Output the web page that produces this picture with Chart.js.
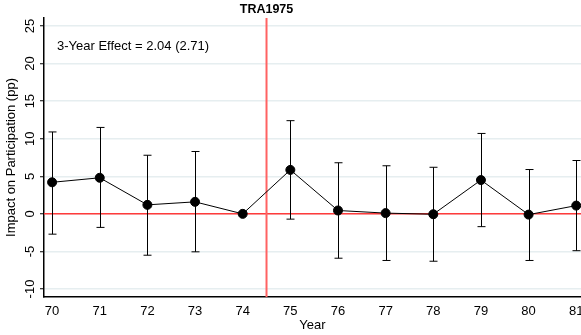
<!DOCTYPE html>
<html lang="en">
<head>
  <meta charset="UTF-8" />
  <title>TRA1975 event study</title>
  <script src="https://cdn.jsdelivr.net/npm/chart.js"></script>
  <style>
    body {
      margin: 0;
      background: #fff;
    }
    .wrap {
      width: 581px;
      height: 335px;
    }
  </style>
</head>
<body>
  <div class="wrap"><canvas id="effectChart"></canvas></div>

  <script>
    // values
    const years = [70, 71, 72, 73, 74, 75, 76, 77, 78, 79, 80, 81];
    const effect = [4.2, 4.8, 1.2, 1.6, 0, 5.85, 0.45, 0.1, -0.05, 4.5, -0.1, 1.1];
    const ciHigh = [10.9, 11.5, 7.8, 8.3, null, 12.4, 6.8, 6.4, 6.2, 10.7, 5.9, 7.1];
    const ciLow = [-2.7, -1.8, -5.5, -5.05, null, -0.7, -5.9, -6.2, -6.3, -1.7, -6.2, -4.9];
    const yTicks = [-10, -5, 0, 5, 10, 15, 20, 25];
    const reformYear = 74.5;
    const reformLabel = 'TRA1975';
    const noteText = '3-Year Effect = 2.04 (2.71)';

    const FONT = '"Liberation Sans", Arial, sans-serif';

    // error bars, reference lines and hand-placed labels
    const extras = {
      id: 'extras',
      beforeDatasetsDraw(chart) {
        const { ctx, chartArea, scales: { x, y } } = chart;
        ctx.save();
        // zero line
        ctx.strokeStyle = '#ff3b3b';
        ctx.lineWidth = 1.5;
        ctx.beginPath();
        ctx.moveTo(chartArea.left, y.getPixelForValue(0));
        ctx.lineTo(chartArea.right, y.getPixelForValue(0));
        ctx.stroke();
        // reform line
        ctx.strokeStyle = '#ff6262';
        ctx.lineWidth = 2;
        const rx = x.getPixelForValue(reformYear);
        ctx.beginPath();
        ctx.moveTo(rx, chartArea.top);
        ctx.lineTo(rx, chartArea.bottom);
        ctx.stroke();

        // confidence intervals
        ctx.strokeStyle = '#000';
        ctx.lineWidth = 1;
        years.forEach((yr, i) => {
          if (ciHigh[i] == null) return;
          const px = Math.round(x.getPixelForValue(yr)) + 0.5;
          const hi = y.getPixelForValue(ciHigh[i]);
          const lo = y.getPixelForValue(ciLow[i]);
          ctx.beginPath();
          ctx.moveTo(px, hi);
          ctx.lineTo(px, lo);
          ctx.moveTo(px - 4, hi);
          ctx.lineTo(px + 4, hi);
          ctx.moveTo(px - 4, lo);
          ctx.lineTo(px + 4, lo);
          ctx.stroke();
        });
        ctx.restore();
      },
      afterDraw(chart) {
        const { ctx, chartArea, scales: { x, y } } = chart;
        ctx.save();
        ctx.fillStyle = '#000';
        // y tick labels, rotated like the original
        ctx.font = '13px ' + FONT;
        ctx.textAlign = 'center';
        ctx.textBaseline = 'middle';
        yTicks.forEach(v => {
          ctx.save();
          ctx.translate(30, y.getPixelForValue(v));
          ctx.rotate(-Math.PI / 2);
          ctx.fillText(String(v), 0, 0);
          ctx.restore();
        });
        // x tick labels
        years.forEach(yr => {
          ctx.fillText(String(yr), x.getPixelForValue(yr), chartArea.bottom + 14);
        });
        // reform label
        ctx.font = 'bold 12.5px ' + FONT;
        ctx.fillText(reformLabel, x.getPixelForValue(reformYear), 10);
        // note
        ctx.font = '13px ' + FONT;
        ctx.textAlign = 'left';
        ctx.fillText(noteText, chartArea.left + 13, 46);
        ctx.restore();
      }
    };

    new Chart(document.getElementById('effectChart'), {
      type: 'line',
      data: {
        datasets: [{
          data: years.map((yr, i) => ({ x: yr, y: effect[i] })),
          borderColor: '#000',
          borderWidth: 1,
          backgroundColor: '#000',
          pointRadius: 4.5,
          pointHoverRadius: 4.5,
          tension: 0,
          clip: false
        }]
      },
      options: {
        responsive: true,
        maintainAspectRatio: false,
        animation: false,
        layout: { autoPadding: false, padding: { top: 18, right: 0, left: 0, bottom: 0 } },
        plugins: {
          legend: { display: false },
          tooltip: { enabled: false }
        },
        scales: {
          x: {
            type: 'linear',
            min: 69.83,
            max: 81.1,
            afterBuildTicks: scale => { scale.ticks = years.map(v => ({ value: v })); },
            afterFit: scale => { scale.height = 38; },
            ticks: { display: false },
            grid: { display: false },
            border: { display: true, color: '#000', width: 1.5 },
            title: {
              display: true,
              text: 'Year',
              color: '#000',
              font: { family: FONT, size: 13 },
              padding: { top: 0, bottom: 2 }
            }
          },
          y: {
            min: -11.06,
            max: 26.06,
            afterBuildTicks: scale => { scale.ticks = yTicks.map(v => ({ value: v })); },
            afterFit: scale => { scale.width = 44; },
            ticks: { display: false },
            grid: {
              color: '#e6eef0',
              lineWidth: 1.5,
              tickColor: '#000',
              tickLength: 4,
              tickWidth: 1
            },
            border: { display: true, color: '#000', width: 1.5 },
            title: {
              display: true,
              text: 'Impact on Participation (pp)',
              color: '#000',
              font: { family: FONT, size: 13 },
              padding: { top: 4, bottom: 0 }
            }
          }
        }
      },
      plugins: [extras]
    });
  </script>
</body>
</html>
